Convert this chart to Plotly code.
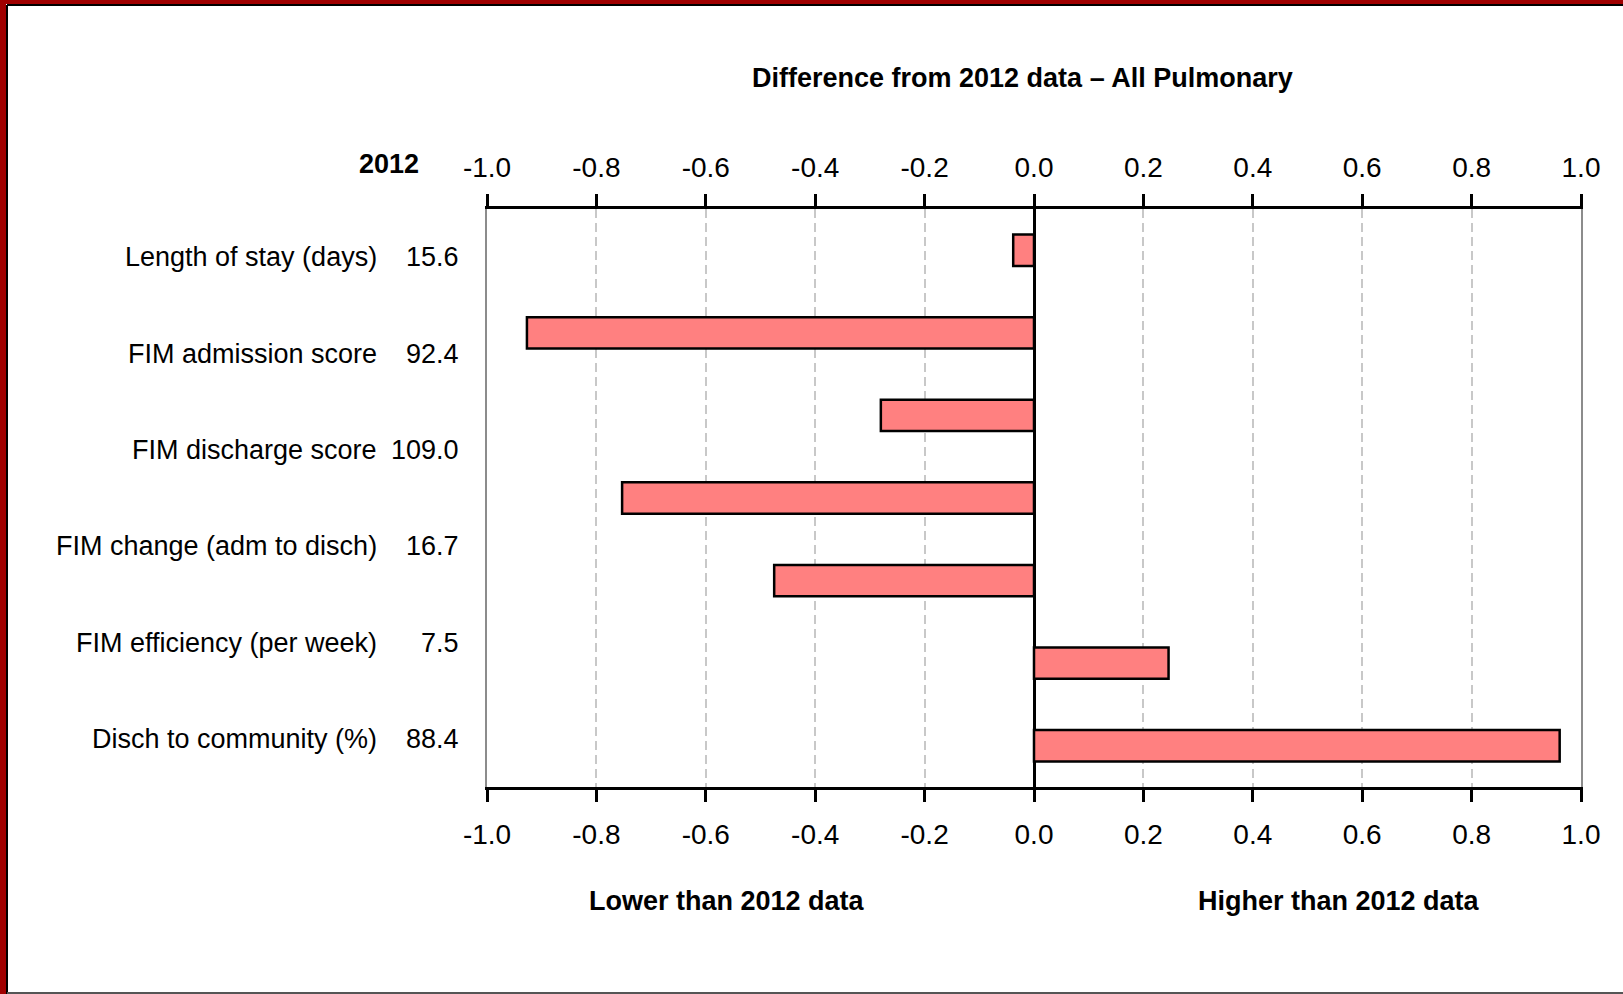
import plotly.graph_objects as go

# ---- data ----
metric_labels = ["Length of stay (days)", "FIM admission score", "FIM discharge score",
                 "FIM change (adm to disch)", "FIM efficiency (per week)", "Disch to community (%)"]
values_2012 = ["15.6", "92.4", "109.0", "16.7", "7.5", "88.4"]
bar_ids = ["b1", "b2", "b3", "b4", "b5", "b6", "b7"]
bar_diffs = [-0.038, -0.927, -0.28, -0.753, -0.475, 0.246, 0.961]
tick_vals = [-1.0, -0.8, -0.6, -0.4, -0.2, 0.0, 0.2, 0.4, 0.6, 0.8, 1.0]
tick_text = ["-1.0", "-0.8", "-0.6", "-0.4", "-0.2", "0.0", "0.2", "0.4", "0.6", "0.8", "1.0"]

FONT = "Liberation Sans Narrow, Arial Narrow, Liberation Sans, Arial, sans-serif"
W, H = 1623, 994
L, R, T, B = 487, 42, 209, 207
PW, PH = W - L - R, H - T - B

def px(x):
    return (x - L) / PW

def py(y):
    return (H - B - y) / PH

fig = go.Figure()
fig.add_trace(go.Bar(
    x=bar_diffs, y=bar_ids, orientation="h", width=0.38,
    marker=dict(color="#FF8080", line=dict(color="black", width=2.5)),
    hoverinfo="x", showlegend=False, xaxis="x", yaxis="y",
))
fig.add_trace(go.Scatter(
    x=[0] * len(metric_labels), y=metric_labels, mode="markers",
    marker=dict(opacity=0), hoverinfo="skip", showlegend=False,
    xaxis="x2", yaxis="y2",
))

axis_common = dict(
    range=[-1, 1], tickvals=tick_vals, ticktext=tick_text,
    ticks="outside", ticklen=12, tickwidth=3, tickcolor="black",
    showline=True, linewidth=3, linecolor="black",
    tickfont=dict(family=FONT, size=28, color="black"),
)

annotations = []
for lab, val in zip(metric_labels, values_2012):
    annotations.append(dict(text=lab, x=px(379), y=lab, xref="paper", yref="y2",
                            xanchor="right", yanchor="middle", showarrow=False,
                            font=dict(family=FONT, size=27, color="black")))
    annotations.append(dict(text=val, x=px(461), y=lab, xref="paper", yref="y2",
                            xanchor="right", yanchor="middle", showarrow=False,
                            font=dict(family=FONT, size=27, color="black")))

bold = dict(family=FONT, size=27, color="black")
annotations += [
    dict(text="<b>2012</b>", x=px(421), y=py(164), xref="paper", yref="paper",
         xanchor="right", yanchor="middle", showarrow=False, font=bold),
    dict(text="<b>Difference from 2012 data \u2013 All Pulmonary</b>", x=px(1022), y=py(78),
         xref="paper", yref="paper", xanchor="center", yanchor="middle",
         showarrow=False, font=bold),
    dict(text="<b>Lower than 2012 data</b>", x=px(727), y=py(901),
         xref="paper", yref="paper", xanchor="center", yanchor="middle",
         showarrow=False, font=bold),
    dict(text="<b>Higher than 2012 data</b>", x=px(1339), y=py(901),
         xref="paper", yref="paper", xanchor="center", yanchor="middle",
         showarrow=False, font=bold),
]

shapes = [
    # red frame left & top
    dict(type="rect", xref="paper", yref="paper", x0=px(0), x1=px(6), y0=py(H), y1=py(0),
         fillcolor="#A00000", line=dict(width=0), layer="above"),
    dict(type="rect", xref="paper", yref="paper", x0=px(0), x1=px(W), y0=py(4), y1=py(0),
         fillcolor="#A00000", line=dict(width=0), layer="above"),
    dict(type="line", xref="paper", yref="paper", x0=px(7), x1=px(7), y0=py(H), y1=py(5),
         line=dict(color="black", width=2), layer="above"),
    dict(type="line", xref="paper", yref="paper", x0=px(7), x1=px(W), y0=py(5), y1=py(5),
         line=dict(color="black", width=2), layer="above"),
    dict(type="line", xref="paper", yref="paper", x0=px(7), x1=px(W), y0=py(H - 1), y1=py(H - 1),
         line=dict(color="#555555", width=2), layer="above"),
]

fig.update_layout(
    width=W, height=H,
    margin=dict(l=L, r=R, t=T, b=B),
    paper_bgcolor="white", plot_bgcolor="white",
    bargap=0.62,
    xaxis=dict(**axis_common, side="bottom", showgrid=True, gridcolor="#C8C8C8",
               gridwidth=2, griddash="9px,5px", zeroline=True, zerolinecolor="black",
               zerolinewidth=3, ticklabelstandoff=8),
    xaxis2=dict(**axis_common, side="top", overlaying="x", matches="x",
                showgrid=False, zeroline=False, anchor="y2", ticklabelstandoff=6),
    yaxis=dict(categoryorder="array", categoryarray=bar_ids, range=[6.5, -0.5],
               showticklabels=False, ticks="", showgrid=False, zeroline=False,
               showline=True, linecolor="#8C8C8C", linewidth=2, mirror=True),
    yaxis2=dict(type="category", categoryorder="array", categoryarray=metric_labels,
                range=[5.5, -0.5], overlaying="y", anchor="x2", showticklabels=False,
                ticks="", showgrid=False, zeroline=False, showline=False),
    annotations=annotations,
    shapes=shapes,
)

fig.write_html("out.html", config={"displayModeBar": False},
               post_script="document.body.style.margin='0';document.body.style.overflow='hidden';")
